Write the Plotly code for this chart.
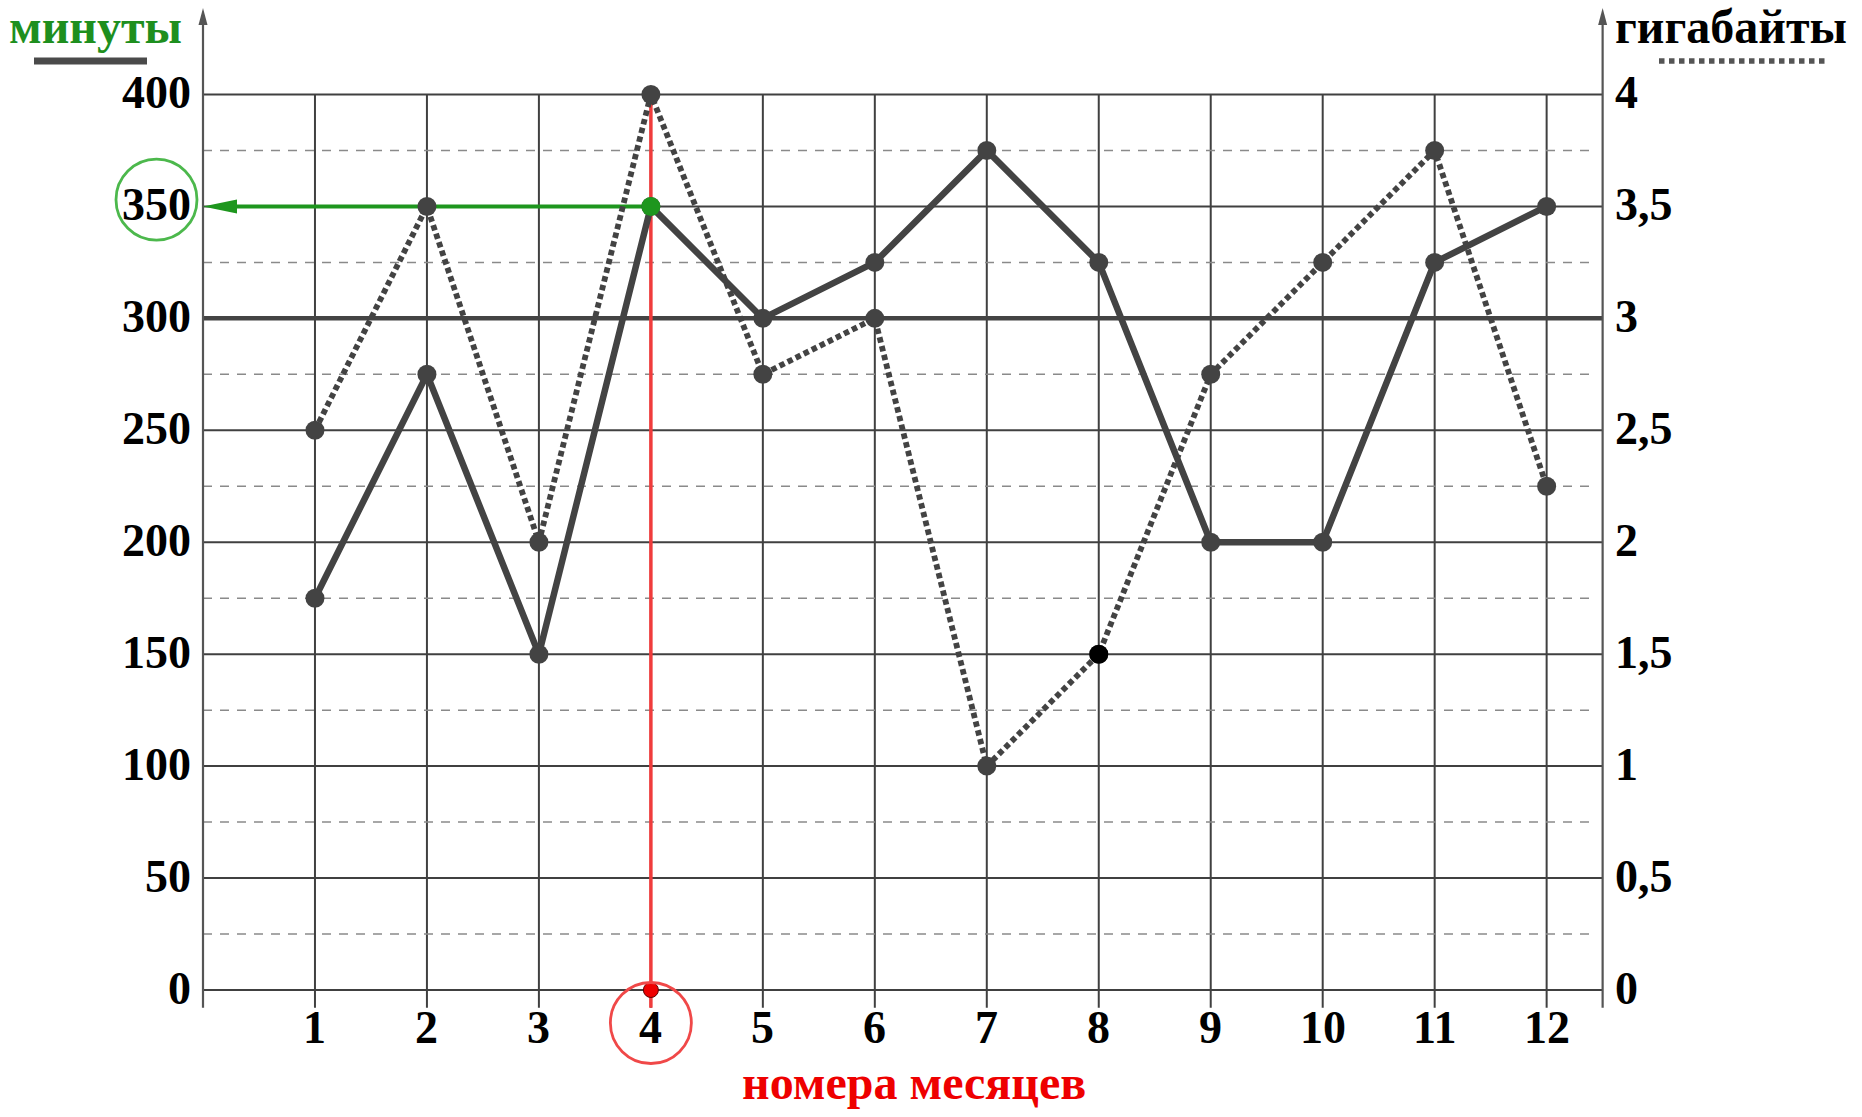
import plotly.graph_objects as go

# ---------------- data ----------------
months = [1, 2, 3, 4, 5, 6, 7, 8, 9, 10, 11, 12]
minutes = [175, 275, 150, 350, 300, 325, 375, 325, 200, 200, 325, 350]
gigabytes = [2.5, 3.5, 2, 4, 2.75, 3, 1, 1.5, 2.75, 3.25, 3.75, 2.25]

left_ticks = [0, 50, 100, 150, 200, 250, 300, 350, 400]
left_labels = ["0", "50", "100", "150", "200", "250", "300", "350", "400"]
right_ticks = [0, 0.5, 1, 1.5, 2, 2.5, 3, 3.5, 4]
right_labels = ["0", "0,5", "1", "1,5", "2", "2,5", "3", "3,5", "4"]
minor_ticks = [25, 75, 125, 175, 225, 275, 325, 375]
limit_minutes = 300
highlight_month = 4
highlight_minutes = 350
black_point_month = 8

left_title = "минуты"
right_title = "гигабайты"
x_title = "номера месяцев"

# ---------------- geometry ----------------
W, H = 1862, 1117
PXX = 111.97      # pixels per month
PXY = 2.2388      # pixels per minute
X0PX = 203        # pixel of month 0 (left axis)
Y0PX = 990        # pixel of 0 minutes
X_MAX = 12.5      # right axis position

x_range = [-X0PX / PXX, (W - X0PX) / PXX]
y_range = [(Y0PX - H) / PXY, Y0PX / PXY]
y2_range = [v / 100 for v in y_range]

def dx(px):
    return px / PXX

def dy(px):
    return px / PXY

y_tick_bottom = -dy(17.7)
y_axis_top = (Y0PX - 8) / PXY

FONT = "Liberation Serif"
DARK = "#434343"
GRID = "#404040"
GREEN = "#1e961e"
RED = "#f03c3c"

fig = go.Figure()

shapes = []
# vertical grid lines (with tick extension)
for m in months:
    shapes.append(dict(type="line", xref="x", yref="y", x0=m, x1=m,
                       y0=y_tick_bottom, y1=max(left_ticks),
                       line=dict(color=GRID, width=2), layer="below"))
# dashed minor lines
for v in minor_ticks:
    shapes.append(dict(type="line", xref="x", yref="y", x0=0, x1=X_MAX - dx(8),
                       y0=v, y1=v, line=dict(color="#8a8a8a", width=1.5, dash="9px,8px"),
                       layer="below"))
# solid major lines
for v in left_ticks:
    w = 4.5 if v == limit_minutes else 2
    c = "#444444" if v == limit_minutes else GRID
    shapes.append(dict(type="line", xref="x", yref="y", x0=0, x1=X_MAX,
                       y0=v, y1=v, line=dict(color=c, width=w), layer="below"))
# axes with arrows
for xa in [0, X_MAX]:
    shapes.append(dict(type="line", xref="x", yref="y", x0=xa, x1=xa,
                       y0=y_tick_bottom, y1=y_axis_top - dy(10),
                       line=dict(color="#555555", width=2.2), layer="below"))
    shapes.append(dict(type="path", xref="x", yref="y",
                       path=f"M {xa},{y_axis_top} L {xa - dx(4.5)},{y_axis_top - dy(17)} "
                            f"L {xa + dx(4.5)},{y_axis_top - dy(17)} Z",
                       fillcolor="#555555", line=dict(width=0), layer="above"))
# green arrow head
shapes.append(dict(type="path", xref="x", yref="y",
                   path=f"M 0,{highlight_minutes} L {dx(34)},{highlight_minutes + dy(7)} "
                        f"L {dx(34)},{highlight_minutes - dy(7)} Z",
                   fillcolor=GREEN, line=dict(width=0), layer="above"))
# green circle around 350 label
cx, cy, r = -dx(46.5), highlight_minutes + dy(6.7), 40.5
shapes.append(dict(type="circle", xref="x", yref="y",
                   x0=cx - dx(r), x1=cx + dx(r), y0=cy - dy(r), y1=cy + dy(r),
                   line=dict(color="#4cb84c", width=2.8), layer="above"))
# red circle around month 4 label
cx, cy, r = highlight_month, -dy(33), 40.5
shapes.append(dict(type="circle", xref="x", yref="y",
                   x0=cx - dx(r), x1=cx + dx(r), y0=cy - dy(r), y1=cy + dy(r),
                   line=dict(color="#f04848", width=2.8), layer="above"))
# legend samples under titles
shapes.append(dict(type="line", xref="paper", yref="paper",
                   x0=34 / W, x1=147 / W, y0=1 - 61 / H, y1=1 - 61 / H,
                   line=dict(color="#4a4a4a", width=7)))
shapes.append(dict(type="line", xref="paper", yref="paper",
                   x0=1659 / W, x1=1826 / W, y0=1 - 61 / H, y1=1 - 61 / H,
                   line=dict(color="#555555", width=5.5, dash="5.5px,4.5px")))

# red vertical guide
fig.add_trace(go.Scatter(x=[highlight_month, highlight_month],
                         y=[max(left_ticks), y_tick_bottom], mode="lines",
                         line=dict(color=RED, width=3.5), hoverinfo="skip",
                         showlegend=False))
# green horizontal guide
fig.add_trace(go.Scatter(x=[highlight_month, dx(30)],
                         y=[highlight_minutes, highlight_minutes], mode="lines",
                         line=dict(color=GREEN, width=4), hoverinfo="skip",
                         showlegend=False))

# minutes (solid)
fig.add_trace(go.Scatter(x=months, y=minutes, mode="lines+markers", name=left_title,
                         line=dict(color=DARK, width=6.5),
                         marker=dict(color=DARK, size=19), showlegend=False))
# gigabytes (dotted)
fig.add_trace(go.Scatter(x=months, y=gigabytes, mode="lines+markers", name=right_title,
                         yaxis="y2",
                         line=dict(color=DARK, width=5.8, dash="5.5px,3.5px"),
                         marker=dict(color=DARK, size=19), showlegend=False))
# highlighted points
fig.add_trace(go.Scatter(x=[highlight_month], y=[highlight_minutes], mode="markers",
                         marker=dict(color=GREEN, size=19), showlegend=False))
fig.add_trace(go.Scatter(x=[highlight_month], y=[0], mode="markers",
                         marker=dict(color="#ee0000", size=15,
                                     line=dict(color="#600000", width=1)),
                         showlegend=False))
fig.add_trace(go.Scatter(x=[black_point_month],
                         y=[gigabytes[months.index(black_point_month)]],
                         yaxis="y2", mode="markers",
                         marker=dict(color="#000000", size=19), showlegend=False))

annotations = []
tick_font = dict(family=FONT, size=46, color="#000000")
for v, t in zip(left_ticks, left_labels):
    annotations.append(dict(x=0, y=v, xref="x", yref="y", text=f"<b>{t}</b>",
                            showarrow=False, xanchor="right", yanchor="middle",
                            xshift=-10, yshift=2, font=tick_font))
for v, t in zip(right_ticks, right_labels):
    annotations.append(dict(x=X_MAX, y=v, xref="x", yref="y2", text=f"<b>{t}</b>",
                            showarrow=False, xanchor="left", yanchor="middle",
                            xshift=10, yshift=2, font=tick_font))
for m in months:
    annotations.append(dict(x=m, y=0, xref="x", yref="y", text=f"<b>{m}</b>",
                            showarrow=False, xanchor="center", yanchor="middle",
                            yshift=-37.5, font=tick_font))
annotations.append(dict(x=95 / W, y=1 - 27 / H, xref="paper", yref="paper",
                        text=f"<b>{left_title}</b>", showarrow=False,
                        xanchor="center", yanchor="middle",
                        font=dict(family=FONT, size=48, color="#1e8f1e")))
annotations.append(dict(x=1731 / W, y=1 - 27 / H, xref="paper", yref="paper",
                        text=f"<b>{right_title}</b>", showarrow=False,
                        xanchor="center", yanchor="middle",
                        font=dict(family=FONT, size=48, color="#000000")))
annotations.append(dict(x=914 / W, y=1 - 1082 / H, xref="paper", yref="paper",
                        text=f"<b>{x_title}</b>", showarrow=False,
                        xanchor="center", yanchor="middle",
                        font=dict(family=FONT, size=48, color="#ee0000")))

fig.update_layout(
    width=W, height=H, autosize=False,
    margin=dict(l=0, r=0, t=0, b=0, pad=0),
    paper_bgcolor="white", plot_bgcolor="white",
    xaxis=dict(range=x_range, visible=False, fixedrange=True),
    yaxis=dict(range=y_range, visible=False, fixedrange=True),
    yaxis2=dict(range=y2_range, visible=False, overlaying="y", fixedrange=True),
    shapes=shapes, annotations=annotations, showlegend=False,
)

fig.write_html(
    "out.html",
    config={"displayModeBar": False},
    post_script="document.body.style.margin='0px';document.body.style.overflow='hidden';",
)
